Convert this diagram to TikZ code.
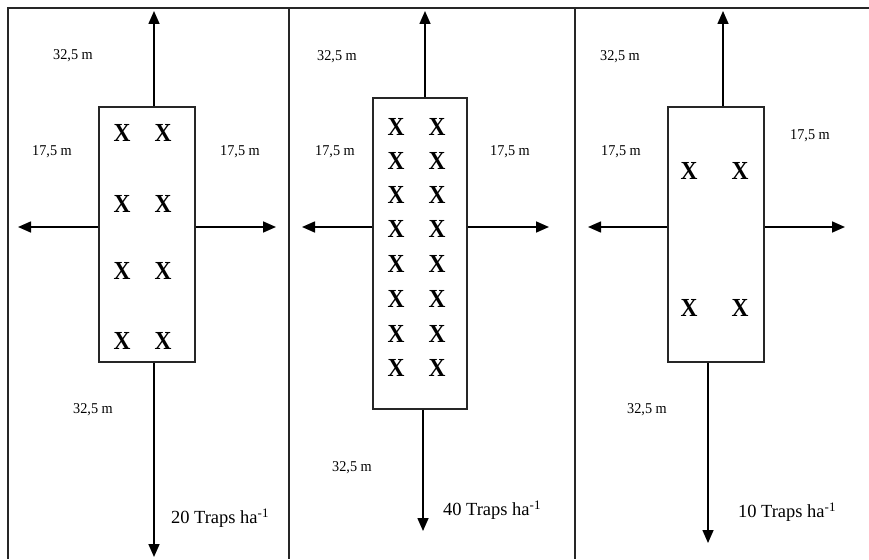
\documentclass[tikz,border=0pt]{standalone}
\usepackage{fontspec}
\setmainfont{Liberation Serif}
\usetikzlibrary{arrows.meta}
\begin{document}
\begin{tikzpicture}[x=1pt,y=-1pt,
  frameline/.style={line width=1.5pt, draw=black!85},
  plotbox/.style={draw=black!85, line width=1.4pt, inner sep=0pt, fill=white},
  arr/.style={line width=1.6pt, -{Triangle[length=13pt,width=11pt]}},
  dimlabel/.style={font=\fontsize{15}{15}\selectfont, inner sep=0pt, xscale=0.95},
  traplabel/.style={font=\fontsize{18.5}{18.5}\selectfont, inner sep=0pt},
  trap/.style={font=\fontsize{26}{26}\selectfont\bfseries, inner sep=0pt, xscale=0.9}]
\useasboundingbox (0,0) rectangle (869,559);
% frame
\coordinate (ftl) at (8,8);
\coordinate (ftr) at (869,8);
\coordinate (fbl) at (8,559);
\coordinate (d1t) at (289,8);
\coordinate (d1b) at (289,559);
\coordinate (d2t) at (575,8);
\coordinate (d2b) at (575,559);
\draw[frameline] (fbl) -- (ftl) -- (ftr);
\draw[frameline] (d1t) -- (d1b);
\draw[frameline] (d2t) -- (d2b);

% panel 1
\node[plotbox, minimum width=96pt, minimum height=255pt] (b1) at (147,234.5) {};
\coordinate (b1u) at (154,11);
\coordinate (b1d) at (154,557);
\coordinate (b1l) at (18,227);
\coordinate (b1r) at (276,227);
\draw[arr] (b1u |- b1.north) -- (b1u);
\draw[arr] (b1d |- b1.south) -- (b1d);
\draw[arr] (b1l -| b1.west) -- (b1l);
\draw[arr] (b1r -| b1.east) -- (b1r);
\foreach \yy [count=\i] in {133,204,271,341} {
  \node[trap] (t1a\i) at (122,\yy) {X};
  \node[trap] (t1b\i) at (163,\yy) {X};
}
\node[dimlabel] (l1a) at (73,56) {32,5 m};
\node[dimlabel] (l1b) at (52,152) {17,5 m};
\node[dimlabel] (l1c) at (240,152) {17,5 m};
\node[dimlabel] (l1d) at (93,410) {32,5 m};
\node[traplabel] (l1e) at (220,518) {20 Traps ha\textsuperscript{-1}};

% panel 2
\node[plotbox, minimum width=94pt, minimum height=311pt] (b2) at (420,253.5) {};
\coordinate (b2u) at (425,11);
\coordinate (b2d) at (423,531);
\coordinate (b2l) at (302,227);
\coordinate (b2r) at (549,227);
\draw[arr] (b2u |- b2.north) -- (b2u);
\draw[arr] (b2d |- b2.south) -- (b2d);
\draw[arr] (b2l -| b2.west) -- (b2l);
\draw[arr] (b2r -| b2.east) -- (b2r);
\foreach \yy [count=\i] in {127,161,195,229,264,299,334,368} {
  \node[trap] (t2a\i) at (396,\yy) {X};
  \node[trap] (t2b\i) at (437,\yy) {X};
}
\node[dimlabel] (l2a) at (337,57) {32,5 m};
\node[dimlabel] (l2b) at (335,152) {17,5 m};
\node[dimlabel] (l2c) at (510,152) {17,5 m};
\node[dimlabel] (l2d) at (352,468) {32,5 m};
\node[traplabel] (l2e) at (492,510) {40 Traps ha\textsuperscript{-1}};

% panel 3
\node[plotbox, minimum width=96pt, minimum height=255pt] (b3) at (716,234.5) {};
\coordinate (b3u) at (723,11);
\coordinate (b3d) at (708,543);
\coordinate (b3l) at (588,227);
\coordinate (b3r) at (845,227);
\draw[arr] (b3u |- b3.north) -- (b3u);
\draw[arr] (b3d |- b3.south) -- (b3d);
\draw[arr] (b3l -| b3.west) -- (b3l);
\draw[arr] (b3r -| b3.east) -- (b3r);
\foreach \yy [count=\i] in {171,308} {
  \node[trap] (t3a\i) at (689,\yy) {X};
  \node[trap] (t3b\i) at (740,\yy) {X};
}
\node[dimlabel] (l3a) at (620,57) {32,5 m};
\node[dimlabel] (l3b) at (621,152) {17,5 m};
\node[dimlabel] (l3c) at (810,136) {17,5 m};
\node[dimlabel] (l3d) at (647,410) {32,5 m};
\node[traplabel] (l3e) at (787,512) {10 Traps ha\textsuperscript{-1}};
\end{tikzpicture}
\end{document}
